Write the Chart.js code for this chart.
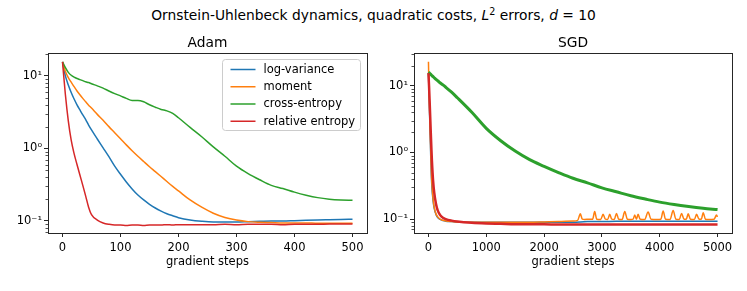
<!DOCTYPE html>
<html>
<head>
<meta charset="utf-8">
<script src="https://cdn.jsdelivr.net/npm/chart.js@4.4.1/dist/chart.umd.min.js"></script>
<style>
  body { margin: 0; background: #fff; }
  #wadah { position: relative; width: 747px; height: 291px; font-family: 'DejaVu Sans', sans-serif; color: #000; }
  #judul { position: absolute; left: 0; top: 7px; width: 747px; text-align: center; font-size: 13.8px; line-height: 16px; }
  #judul sup { font-size: 9.6px; line-height: 0; vertical-align: 5px; }
  canvas { position: absolute; top: 28px; }
</style>
</head>
<body>
<div id="wadah">
  <div id="judul">Ornstein-Uhlenbeck dynamics, quadratic costs, <i>L</i><sup>2</sup> errors, <i>d</i> = 10</div>
  <canvas id="chartAdam" width="373" height="263" style="left:0px"></canvas>
  <canvas id="chartSgd" width="374" height="263" style="left:373px"></canvas>
</div>
<script>
// data (langkah gradient -> error L2)

// panel kiri: Adam
const adamSteps = [0, 5, 10, 15, 20, 25, 30, 35, 40, 45, 50,
  60, 70, 80, 90, 100, 110, 120, 130, 140, 150, 160, 170, 180, 190, 200,
  220, 240, 260, 280, 300, 320, 340, 360, 380, 400, 420, 440, 460, 480, 500];
const adamLogVar = [15.6, 10, 7.5, 5.9, 4.8, 4.0, 3.4, 2.9, 2.5, 2.1, 1.8,
  1.35, 1.02, 0.77, 0.57, 0.44, 0.345, 0.277, 0.228, 0.195, 0.17, 0.151, 0.137, 0.126, 0.118, 0.111,
  0.103, 0.099, 0.097, 0.097, 0.097, 0.098, 0.099, 0.1, 0.1, 0.101, 0.102, 0.103, 0.104, 0.105, 0.106];
const adamMoment = [15.6, 11.5, 9.5, 8.2, 7.1, 6.2, 5.5, 4.9, 4.4, 3.95, 3.6,
  2.95, 2.45, 2.0, 1.65, 1.36, 1.12, 0.93, 0.78, 0.66, 0.56, 0.48, 0.41, 0.35, 0.3, 0.26,
  0.195, 0.155, 0.128, 0.112, 0.103, 0.098, 0.096, 0.095, 0.094, 0.094, 0.094, 0.093, 0.093, 0.093, 0.093];
const adamCrossEnt = [15.6, 13, 11.2, 10.2, 9.6, 9.2, 8.9, 8.6, 8.3, 8.1, 7.8,
  7.3, 6.8, 6.2, 5.7, 5.3, 4.9, 4.6, 4.6, 4.4, 4.0, 3.7, 3.45, 3.3, 3.05, 2.65,
  1.95, 1.45, 1.05, 0.78, 0.57, 0.45, 0.37, 0.31, 0.28, 0.25, 0.227, 0.21, 0.2, 0.195, 0.193];
const adamRelEnt = [15.6, 5.5, 2.4, 1.3, 0.85, 0.6, 0.43, 0.31, 0.22, 0.155, 0.122,
  0.103, 0.094, 0.09, 0.088, 0.088, 0.087, 0.088, 0.088, 0.087, 0.088, 0.088, 0.088, 0.089, 0.088, 0.089,
  0.089, 0.089, 0.089, 0.09, 0.089, 0.09, 0.09, 0.09, 0.089, 0.09, 0.09, 0.09, 0.091, 0.091, 0.091];

// panel kanan: SGD
const sgdSteps = [0, 10, 20, 30, 40, 50, 60, 80, 100, 130, 160, 200, 250, 300, 400, 500,
  750, 1000, 1250, 1500, 1750, 2000, 2250, 2500, 2750, 3000, 3250, 3500, 3750, 4000, 4250, 4500, 4750, 5000];
const sgdLogVar = [15.5, 7.5, 3.6, 1.8, 0.85, 0.45, 0.3, 0.19, 0.145, 0.118, 0.106, 0.099, 0.095, 0.093, 0.092, 0.091,
  0.09, 0.09, 0.09, 0.09, 0.09, 0.09, 0.09, 0.09, 0.092, 0.092, 0.093, 0.093, 0.093, 0.093, 0.093, 0.093, 0.093, 0.093];
const sgdCrossEnt = [16, 15.7, 15.4, 15.1, 14.8, 14.5, 14.2, 13.7, 13.2, 12.5, 11.9, 11.1, 10.3, 9.5, 8.0, 6.6,
  4.0, 2.3, 1.5, 1.05, 0.78, 0.62, 0.5, 0.41, 0.35, 0.295, 0.257, 0.224, 0.2, 0.18, 0.166, 0.155, 0.146, 0.139];
const sgdRelEnt = [15.5, 10, 6, 3.5, 2.0, 1.2, 0.75, 0.38, 0.25, 0.17, 0.135, 0.116, 0.105, 0.1, 0.095, 0.092,
  0.088, 0.086, 0.085, 0.084, 0.084, 0.084, 0.083, 0.083, 0.083, 0.083, 0.083, 0.083, 0.083, 0.083, 0.083, 0.083, 0.083, 0.083];
// moment di SGD punya langkah sendiri, soalnya banyak lonjakan di ekornya
const sgdMomentSteps = [0, 10, 20, 30, 40, 50, 60, 80, 100, 130, 160, 200, 250, 300, 400, 500, 750, 1000, 1250, 1500,
  1750, 2000, 2250, 2500, 2580, 2627, 2660, 2700, 2780, 2840, 2875, 2910, 2980, 3020, 3060, 3100, 3135, 3170, 3215, 3251,
  3290, 3350, 3395, 3440, 3500, 3540, 3568, 3597, 3626, 3660, 3740, 3799, 3850, 3950, 4020, 4059, 4100, 4180, 4232, 4280,
  4340, 4377, 4420, 4460, 4492, 4530, 4600, 4637, 4680, 4720, 4752, 4790, 4850, 4940, 4983, 5000];
const sgdMoment = [23, 8.5, 4.2, 2.1, 1.0, 0.52, 0.34, 0.2, 0.15, 0.12, 0.108, 0.1, 0.096, 0.094, 0.092, 0.091, 0.09, 0.09, 0.09, 0.09,
  0.09, 0.091, 0.092, 0.094, 0.096, 0.12, 0.1, 0.099, 0.1, 0.1, 0.13, 0.1, 0.099, 0.118, 0.1, 0.099, 0.118, 0.1, 0.099, 0.122,
  0.1, 0.099, 0.13, 0.1, 0.099, 0.1, 0.115, 0.1, 0.118, 0.1, 0.099, 0.128, 0.1, 0.099, 0.1, 0.132, 0.1, 0.099, 0.135, 0.1,
  0.099, 0.122, 0.1, 0.1, 0.12, 0.1, 0.099, 0.118, 0.1, 0.1, 0.125, 0.1, 0.099, 0.1, 0.115, 0.108];

// label sumbu
const adamXTicks = [0, 100, 200, 300, 400, 500];
const sgdXTicks = [0, 1000, 2000, 3000, 4000, 5000];
const yTickNilai = [0.1, 1, 10];
const yTickLabel = ['10\u207B\u00B9', '10\u2070', '10\u00B9'];
const labelSeri = ['log-variance', 'moment', 'cross-entropy', 'relative entropy'];

// warna bawaan matplotlib (tab10)
const warnaBiru = '#1f77b4';
const warnaOren = '#ff7f0e';
const warnaHijau = '#2ca02c';
const warnaMerah = '#d62728';
const warnaBingkai = '#262626';

Chart.defaults.font.family = "'DejaVu Sans', sans-serif";
Chart.defaults.color = '#000';

function jadiTitik(xs, ys) {
  return xs.map((x, i) => ({ x: x, y: ys[i] }));
}

function seri(label, xs, ys, warna, tebal, urutan) {
  return {
    label: label,
    data: jadiTitik(xs, ys),
    borderColor: warna,
    backgroundColor: warna,
    borderWidth: tebal,
    pointRadius: 0,
    cubicInterpolationMode: 'monotone',
    order: urutan // angka kecil digambar paling atas
  };
}

// bingkai kotak + tick minor log + judul panel, ala matplotlib
const pluginBingkai = {
  id: 'bingkai',
  afterDraw(chart, args, opts) {
    const ctx = chart.ctx;
    const a = chart.chartArea;
    const y = chart.scales.y;
    ctx.save();
    ctx.strokeStyle = warnaBingkai;
    ctx.lineWidth = 0.8;
    for (let k = -2; k <= 2; k++) {
      for (let m = 2; m <= 9; m++) {
        const v = m * Math.pow(10, k);
        if (v < y.min || v > y.max) continue;
        const py = Math.round(y.getPixelForValue(v)) + 0.5;
        ctx.beginPath();
        ctx.moveTo(a.left - 2.5, py);
        ctx.lineTo(a.left, py);
        ctx.stroke();
      }
    }
    ctx.lineWidth = 1;
    ctx.strokeRect(Math.round(a.left) + 0.5, Math.round(a.top) + 0.5,
      Math.round(a.right - a.left), Math.round(a.bottom - a.top));
    // judul panel ditaruh di tengah area plot, bukan tengah canvas
    if (opts.text) {
      ctx.fillStyle = '#000';
      ctx.font = "13.8px 'DejaVu Sans'";
      ctx.textAlign = 'center';
      ctx.textBaseline = 'middle';
      ctx.fillText(opts.text, (a.left + a.right) / 2, a.top - 10);
    }
    ctx.restore();
  }
};

// legend di dalam area plot (pojok kanan atas)
const pluginLegenda = {
  id: 'legendaDalam',
  afterDraw(chart) {
    const ctx = chart.ctx;
    const a = chart.chartArea;
    const kanan = a.right - 7;
    const atas = a.top + 6;
    const lebar = 138, tinggi = 71;
    const kiri = kanan - lebar;
    ctx.save();
    ctx.fillStyle = 'rgba(255,255,255,0.8)';
    ctx.strokeStyle = '#cccccc';
    ctx.lineWidth = 1;
    ctx.beginPath();
    ctx.roundRect(kiri + 0.5, atas + 0.5, lebar, tinggi, 3);
    ctx.fill();
    ctx.stroke();
    ctx.font = "11.5px 'DejaVu Sans'";
    ctx.textBaseline = 'middle';
    ctx.fillStyle = '#000';
    chart.data.datasets.forEach((ds, i) => {
      const py = atas + 10.5 + i * 17.25;
      ctx.strokeStyle = ds.borderColor;
      ctx.lineWidth = 1.5;
      ctx.beginPath();
      ctx.moveTo(kiri + 8.5, py);
      ctx.lineTo(kiri + 33.5, py);
      ctx.stroke();
      ctx.fillText(ds.label, kiri + 41.5, py + 0.5);
    });
    ctx.restore();
  }
};

function bikinOpsi(judul, xMin, xMax, xTicks, yMin, yMax, lebarSumbuY, padKanan) {
  const gridTick = { drawOnChartArea: false, tickLength: 4, tickColor: warnaBingkai, lineWidth: 1 };
  return {
    responsive: false,
    animation: false,
    devicePixelRatio: 1,
    layout: { padding: { top: 25, left: 0, right: padKanan, bottom: 20 } },
    plugins: {
      legend: { display: false },
      tooltip: { enabled: false },
      title: { display: false },
      bingkai: { text: judul }
    },
    scales: {
      x: {
        type: 'linear',
        min: xMin,
        max: xMax,
        afterBuildTicks: s => { s.ticks = xTicks.map(v => ({ value: v })); },
        afterFit: s => { s.height = 38; },
        ticks: { font: { size: 11.5 }, padding: 4, maxRotation: 0, autoSkip: false, callback: v => String(v) },
        grid: gridTick,
        border: { display: false },
        title: { display: true, text: 'gradient steps', font: { size: 11.5 }, padding: { top: 0, bottom: 2 } }
      },
      y: {
        type: 'logarithmic',
        min: yMin,
        max: yMax,
        afterBuildTicks: s => { s.ticks = yTickNilai.map(v => ({ value: v })); },
        afterFit: s => { s.width = lebarSumbuY; },
        ticks: {
          font: { size: 11.5 },
          padding: 2,
          autoSkip: false,
          callback: v => { const i = yTickNilai.indexOf(v); return i >= 0 ? yTickLabel[i] : ''; }
        },
        grid: gridTick,
        border: { display: false }
      }
    }
  };
}

document.addEventListener('DOMContentLoaded', () => {
  if (typeof Chart === 'undefined') return;

  new Chart(document.getElementById('chartAdam').getContext('2d'), {
    type: 'line',
    data: {
      datasets: [
        seri(labelSeri[0], adamSteps, adamLogVar, warnaBiru, 1.5, 3),
        seri(labelSeri[1], adamSteps, adamMoment, warnaOren, 1.5, 2),
        seri(labelSeri[2], adamSteps, adamCrossEnt, warnaHijau, 1.5, 1),
        seri(labelSeri[3], adamSteps, adamRelEnt, warnaMerah, 1.5, 0)
      ]
    },
    options: bikinOpsi('Adam', -25, 525, adamXTicks, 0.0683, 20.7, 48, 6),
    plugins: [pluginBingkai, pluginLegenda]
  });

  new Chart(document.getElementById('chartSgd').getContext('2d'), {
    type: 'line',
    data: {
      datasets: [
        seri(labelSeri[0], sgdSteps, sgdLogVar, warnaBiru, 1.5, 3),
        seri(labelSeri[1], sgdMomentSteps, sgdMoment, warnaOren, 1.5, 2),
        seri(labelSeri[2], sgdSteps, sgdCrossEnt, warnaHijau, 3, 1), // garisnya tebal krn noise
        seri(labelSeri[3], sgdSteps, sgdRelEnt, warnaMerah, 2.5, 0)
      ]
    },
    options: bikinOpsi('SGD', -250, 5250, sgdXTicks, 0.062, 31, 41, 15),
    plugins: [pluginBingkai]
  });
});
</script>
</body>
</html>
